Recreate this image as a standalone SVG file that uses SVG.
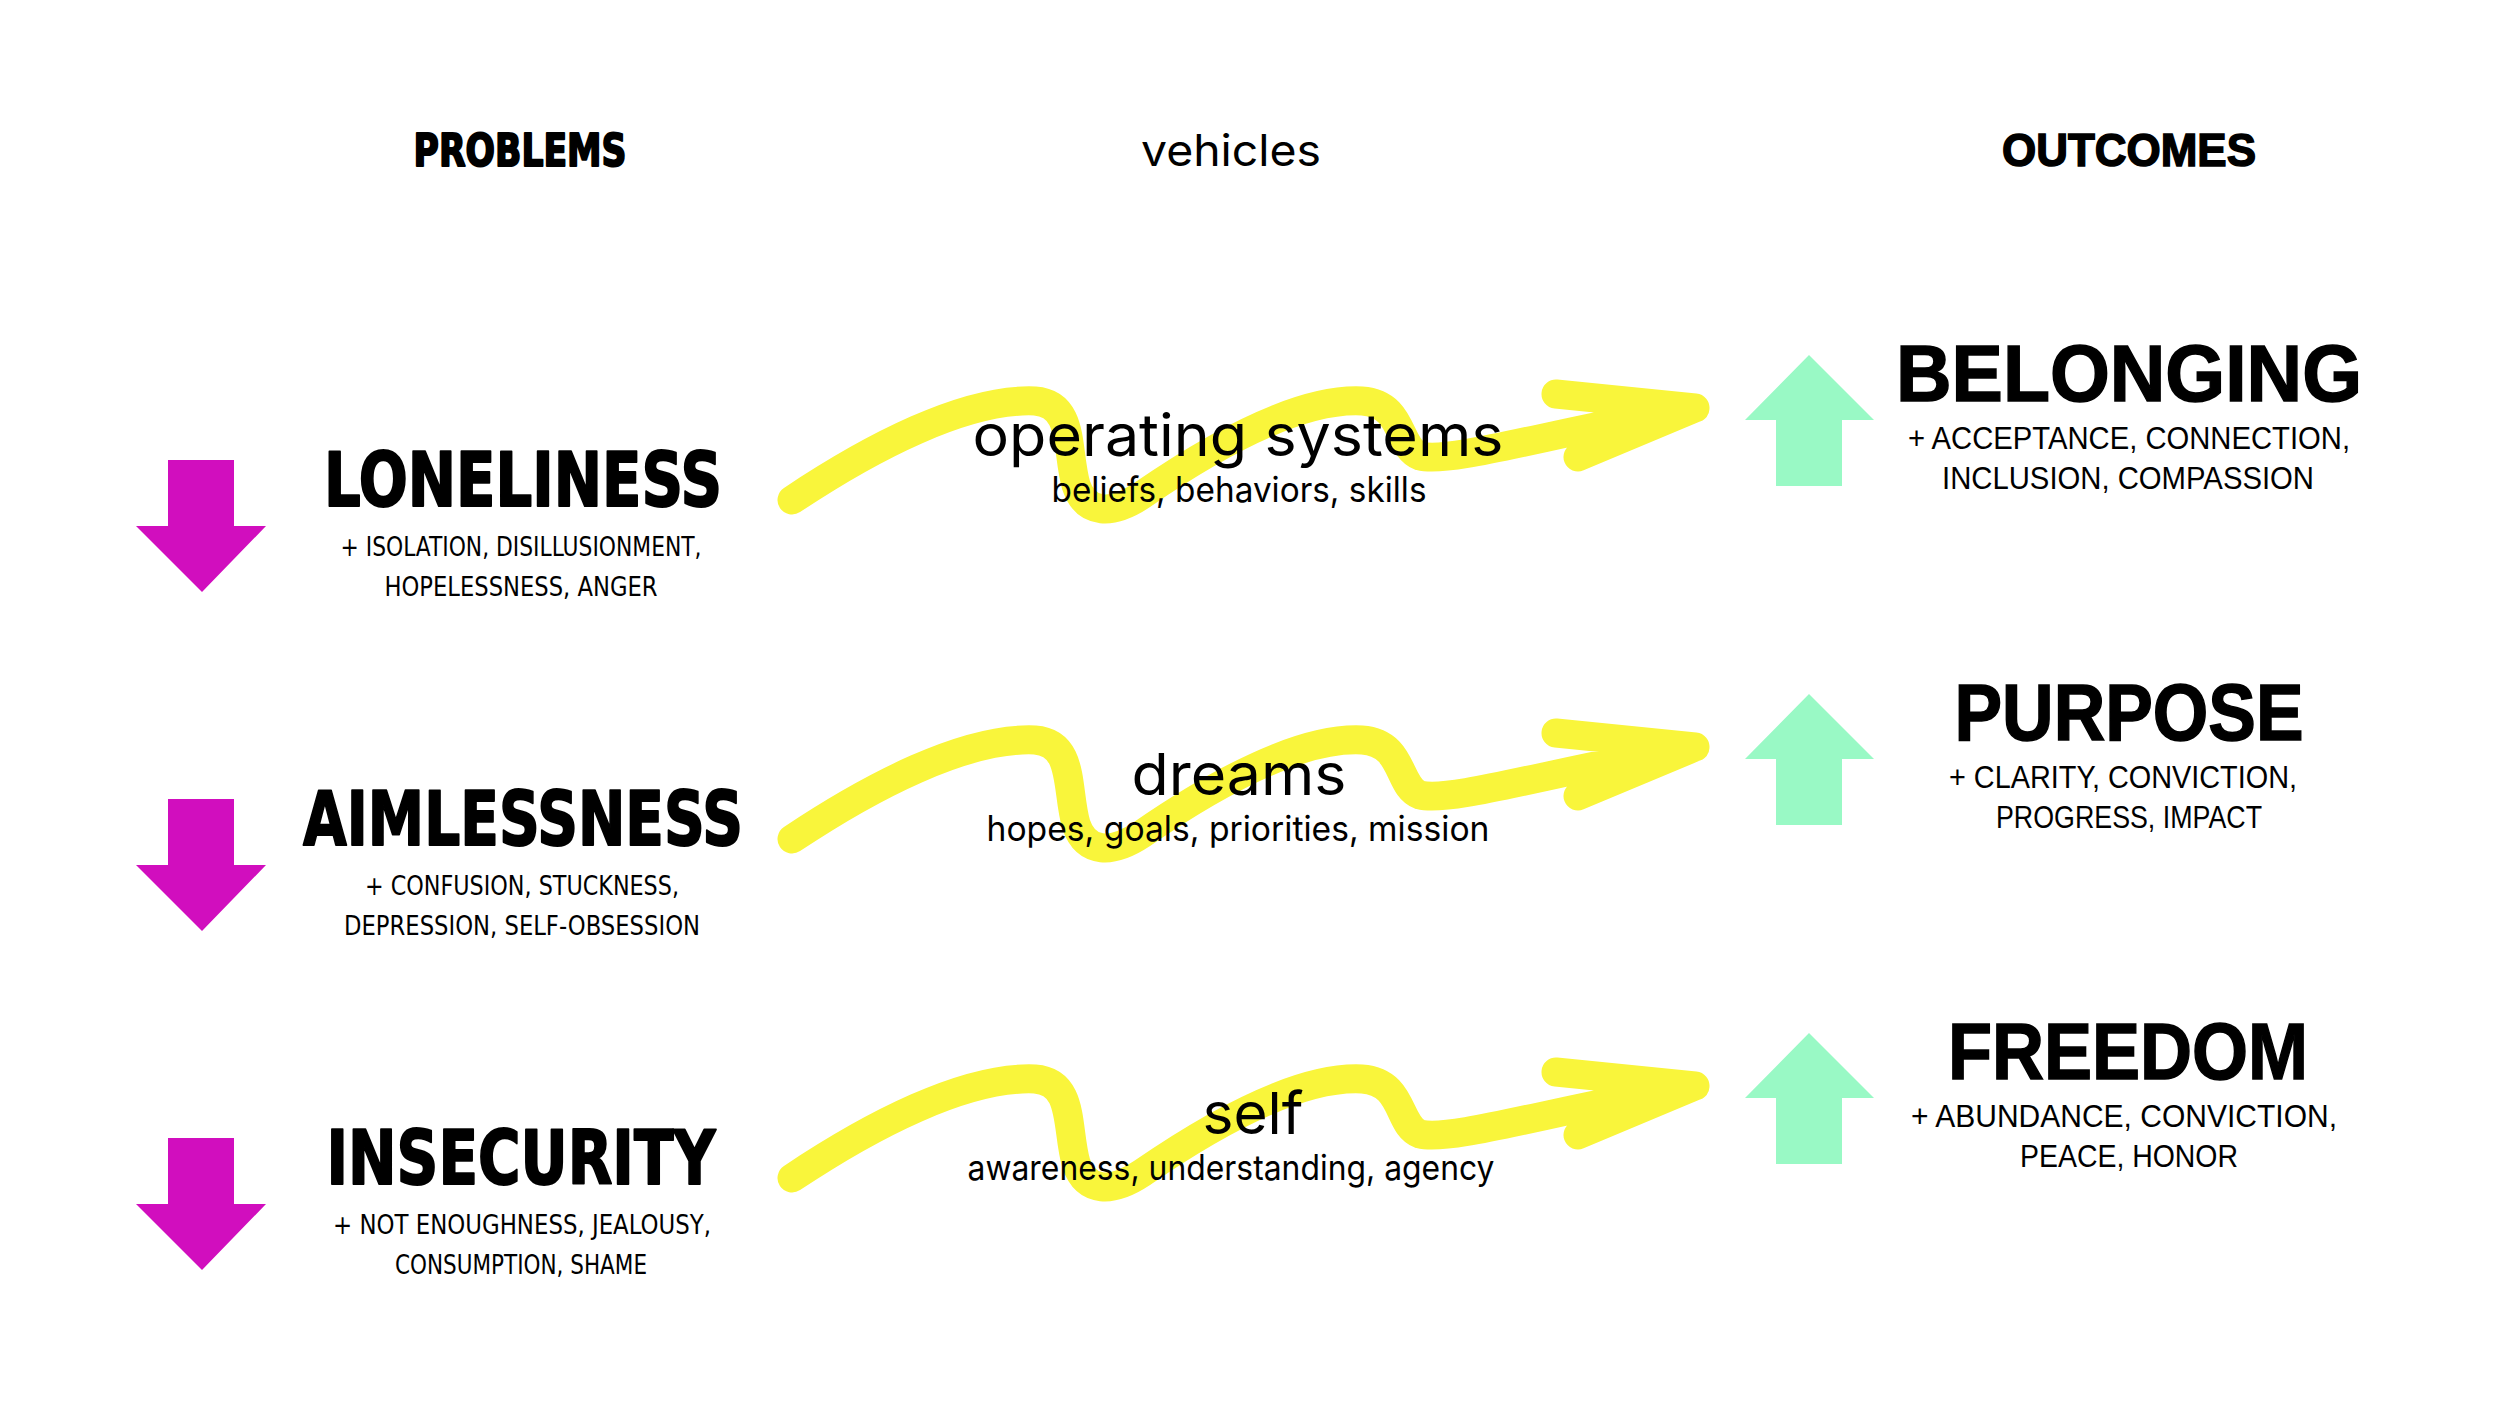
<svg xmlns="http://www.w3.org/2000/svg" xmlns:xlink="http://www.w3.org/1999/xlink" width="2500" height="1406" viewBox="0 0 2500 1406">
<style>
.hand{font-family:"DejaVu Sans",sans-serif;font-weight:bold;fill:#000;stroke:#000;stroke-width:2;stroke-linejoin:round}
.handsub{font-family:"DejaVu Sans Condensed","DejaVu Sans",sans-serif;font-weight:normal;font-size:27px;fill:#000}
.veh{font-family:Inter,"Liberation Sans",sans-serif;fill:#000}
.out{font-family:"Liberation Sans",Arial,sans-serif;font-weight:bold;fill:#000;stroke:#000;stroke-width:1.5}
.outsub{font-family:"Liberation Sans",Arial,sans-serif;font-size:32px;fill:#000}
.sq{fill:none;stroke:#F9F53B;stroke-width:29;stroke-linecap:round;stroke-linejoin:round}
.down{fill:#D10EBE}
.up{fill:#99F9C5}
</style>
<defs>
<path id="squiggle" d="M 792 500 C 870 448, 965 398, 1035 401 C 1075 404, 1066 450, 1076 485 C 1086 515, 1112 515, 1142 495 C 1222 440, 1302 398, 1362 401 C 1405 404, 1397 448, 1420 456 C 1452 464, 1560 430, 1695 408 M 1556 394 L 1695 408 L 1578 457"/>
<polygon id="downArrow" points="168,460 234,460 234,526 266,526 202,592 136,526 168,526"/>
<polygon id="upArrow" points="1776,486 1842,486 1842,420 1874,420 1809,355 1745,420 1776,420"/>
</defs>
<rect width="2500" height="1406" fill="#fff"/>

<g id="headers">
<text id="h-problems" class="hand" x="520" y="166" font-size="44" text-anchor="middle" textLength="213" lengthAdjust="spacingAndGlyphs">PROBLEMS</text>
<text id="h-vehicles" class="veh" x="1231" y="166" font-size="44" text-anchor="middle" textLength="180" lengthAdjust="spacingAndGlyphs">vehicles</text>
<text id="h-outcomes" class="out" x="2129" y="166" font-size="46" text-anchor="middle" textLength="254" lengthAdjust="spacingAndGlyphs">OUTCOMES</text>
</g>

<g id="connectors">
<use xlink:href="#squiggle" class="sq"/>
<use xlink:href="#squiggle" class="sq" transform="translate(0,339)"/>
<use xlink:href="#squiggle" class="sq" transform="translate(0,678)"/>
</g>

<g id="problem-loneliness">
<use xlink:href="#downArrow" class="down"/>
<text class="hand" x="523" y="506" font-size="74" text-anchor="middle" textLength="398" lengthAdjust="spacingAndGlyphs">LONELINESS</text>
<text class="handsub" x="521" y="556" text-anchor="middle" textLength="361" lengthAdjust="spacingAndGlyphs">+ ISOLATION, DISILLUSIONMENT,</text>
<text class="handsub" x="521" y="596" text-anchor="middle" textLength="273" lengthAdjust="spacingAndGlyphs">HOPELESSNESS, ANGER</text>
</g>

<g id="problem-aimlessness">
<use xlink:href="#downArrow" class="down" transform="translate(0,339)"/>
<text class="hand" x="523" y="845" font-size="74" text-anchor="middle" textLength="440" lengthAdjust="spacingAndGlyphs">AIMLESSNESS</text>
<text class="handsub" x="522" y="895" text-anchor="middle" textLength="314" lengthAdjust="spacingAndGlyphs">+ CONFUSION, STUCKNESS,</text>
<text class="handsub" x="522" y="935" text-anchor="middle" textLength="356" lengthAdjust="spacingAndGlyphs">DEPRESSION, SELF-OBSESSION</text>
</g>

<g id="problem-insecurity">
<use xlink:href="#downArrow" class="down" transform="translate(0,678)"/>
<text class="hand" x="521" y="1184" font-size="74" text-anchor="middle" textLength="389" lengthAdjust="spacingAndGlyphs">INSECURITY</text>
<text class="handsub" x="522" y="1234" text-anchor="middle" textLength="378" lengthAdjust="spacingAndGlyphs">+ NOT ENOUGHNESS, JEALOUSY,</text>
<text class="handsub" x="521" y="1274" text-anchor="middle" textLength="252" lengthAdjust="spacingAndGlyphs">CONSUMPTION, SHAME</text>
</g>

<g id="vehicle-operating-systems">
<text class="veh" x="1238" y="456" font-size="58" text-anchor="middle" textLength="531" lengthAdjust="spacingAndGlyphs">operating systems</text>
<text class="veh" x="1239" y="502" font-size="35" text-anchor="middle" textLength="375" lengthAdjust="spacingAndGlyphs">beliefs, behaviors, skills</text>
</g>

<g id="vehicle-dreams">
<text class="veh" x="1239" y="795" font-size="58" text-anchor="middle" textLength="215" lengthAdjust="spacingAndGlyphs">dreams</text>
<text class="veh" x="1238" y="841" font-size="35" text-anchor="middle" textLength="503" lengthAdjust="spacingAndGlyphs">hopes, goals, priorities, mission</text>
</g>

<g id="vehicle-self">
<text class="veh" x="1253" y="1134" font-size="58" text-anchor="middle" textLength="101" lengthAdjust="spacingAndGlyphs">self</text>
<text class="veh" x="1231" y="1180" font-size="35" text-anchor="middle" textLength="527" lengthAdjust="spacingAndGlyphs">awareness, understanding, agency</text>
</g>

<g id="outcome-belonging">
<use xlink:href="#upArrow" class="up"/>
<text class="out" x="2129" y="401" font-size="80" text-anchor="middle" textLength="466" lengthAdjust="spacingAndGlyphs">BELONGING</text>
<text class="outsub" x="2129" y="449" text-anchor="middle" textLength="442" lengthAdjust="spacingAndGlyphs">+ ACCEPTANCE, CONNECTION,</text>
<text class="outsub" x="2128" y="489" text-anchor="middle" textLength="372" lengthAdjust="spacingAndGlyphs">INCLUSION, COMPASSION</text>
</g>

<g id="outcome-purpose">
<use xlink:href="#upArrow" class="up" transform="translate(0,339)"/>
<text class="out" x="2129" y="740" font-size="80" text-anchor="middle" textLength="349" lengthAdjust="spacingAndGlyphs">PURPOSE</text>
<text class="outsub" x="2123" y="788" text-anchor="middle" textLength="348" lengthAdjust="spacingAndGlyphs">+ CLARITY, CONVICTION,</text>
<text class="outsub" x="2129" y="828" text-anchor="middle" textLength="266" lengthAdjust="spacingAndGlyphs">PROGRESS, IMPACT</text>
</g>

<g id="outcome-freedom">
<use xlink:href="#upArrow" class="up" transform="translate(0,678)"/>
<text class="out" x="2128" y="1079" font-size="80" text-anchor="middle" textLength="360" lengthAdjust="spacingAndGlyphs">FREEDOM</text>
<text class="outsub" x="2124" y="1127" text-anchor="middle" textLength="426" lengthAdjust="spacingAndGlyphs">+ ABUNDANCE, CONVICTION,</text>
<text class="outsub" x="2129" y="1167" text-anchor="middle" textLength="218" lengthAdjust="spacingAndGlyphs">PEACE, HONOR</text>
</g>
</svg>
